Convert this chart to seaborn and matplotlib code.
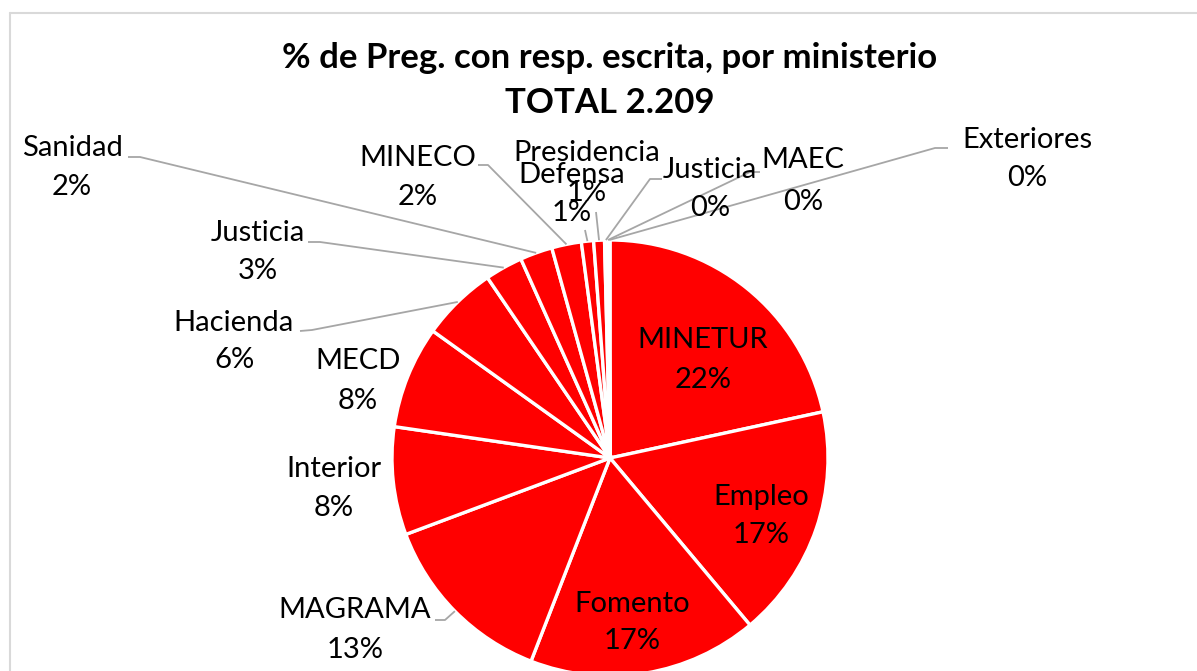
import numpy as np
import pandas as pd
import seaborn as sns
import matplotlib
matplotlib.use("Agg")
import matplotlib.pyplot as plt
from matplotlib.lines import Line2D

# ---- data ----
ministerios = ["MINETUR", "Empleo", "Fomento", "MAGRAMA", "Interior", "MECD",
               "Hacienda", "Justicia", "Sanidad", "MINECO", "Defensa",
               "Presidencia", "Justicia", "MAEC", "Exteriores"]
porcentajes = [21.6, 17.3, 17.0, 13.4, 8.0, 7.6, 5.6, 2.8, 2.4, 2.2, 0.9, 0.8,
               0.2, 0.1, 0.1]
titulo = "% de Preg. con resp. escrita, por ministerio"
subtitulo = "TOTAL 2.209"

df = pd.DataFrame({"ministerio": ministerios, "pct": porcentajes})

sns.set_theme(style="white")
plt.rcParams["font.family"] = ["Lato", "DejaVu Sans"]

W, H = 1197, 671
fig = plt.figure(figsize=(W / 100, H / 100), dpi=100)
ax = fig.add_axes([0, 0, 1, 1])
CX, CY, R = 610, 458, 218


def P(px, py):
    return ((px - CX) / R, (CY - py) / R)


red = sns.color_palette(["#FF0000"])[0]
wedges, _ = ax.pie(df["pct"], startangle=90, counterclock=False,
                   colors=[red] * len(df), radius=1, center=(0, 0),
                   wedgeprops=dict(edgecolor="white", linewidth=2.4))
ax.set_xlim(-CX / R, (W - CX) / R)
ax.set_ylim((CY - H) / R, CY / R)
ax.set_aspect("equal")
ax.axis("off")

# chart frame
fig.add_artist(Line2D([10 / W, 1], [1 - 13 / H, 1 - 13 / H], color="#D9D9D9", lw=1.5))
fig.add_artist(Line2D([10 / W, 10 / W], [0, 1 - 13 / H], color="#D9D9D9", lw=1.5))

# title
tx, ty = P(610, 58)
ax.text(tx, ty, titulo, ha="center", va="center", fontsize=25, fontweight="bold", color="black")
tx, ty = P(610, 103)
ax.text(tx, ty, subtitulo, ha="center", va="center", fontsize=25, fontweight="bold", color="black")

# label placement (pixel layout): x, y of name line, y of pct line
label_pos = [
    (703, 340, 380), (761, 497, 535), (632, 604, 641), (355, 610, 650),
    (334, 469, 508), (358, 361, 401), (234, 323, 360), (258, 233, 271),
    (72, 148, 187), (418, 158, 197), (572, 175, 213), (587, 153, 193),
    (710, 170, 208), (803, 160, 202), (1027, 140, 178),
]
draw_order = [0, 1, 2, 3, 4, 5, 6, 7, 8, 9, 11, 10, 12, 13, 14]

# leader line anchor points near labels (pixels)
leaders = {
    3: [(435, 620), (445, 620)],
    6: [(300, 331), (312, 330)],
    7: [(308, 242), (320, 242)],
    8: [(128, 157), (140, 157)],
    9: [(478, 165), (488, 165)],
    10: [(585, 230)],
    11: [(596, 212)],
    12: [(662, 179), (650, 179)],
    13: [(760, 172), (750, 172)],
    14: [(948, 148), (935, 148)],
}
for i, pts in leaders.items():
    w = wedges[i]
    mid = np.deg2rad((w.theta1 + w.theta2) / 2)
    xs = [P(*p)[0] for p in pts] + [np.cos(mid)]
    ys = [P(*p)[1] for p in pts] + [np.sin(mid)]
    ax.plot(xs, ys, color="#A6A6A6", lw=1.3, zorder=1, solid_capstyle="butt")

for i in draw_order:
    name, pct = df.loc[i, "ministerio"], df.loc[i, "pct"]
    x, y1, y2 = label_pos[i]
    a, b = P(x, y1)
    ax.text(a, b, name, ha="center", va="center", fontsize=21, color="black", zorder=5)
    a, b = P(x, y2)
    ax.text(a, b, f"{pct:.0f}%", ha="center", va="center", fontsize=21, color="black", zorder=5)

fig.savefig("out.png", dpi=100, facecolor="white")
